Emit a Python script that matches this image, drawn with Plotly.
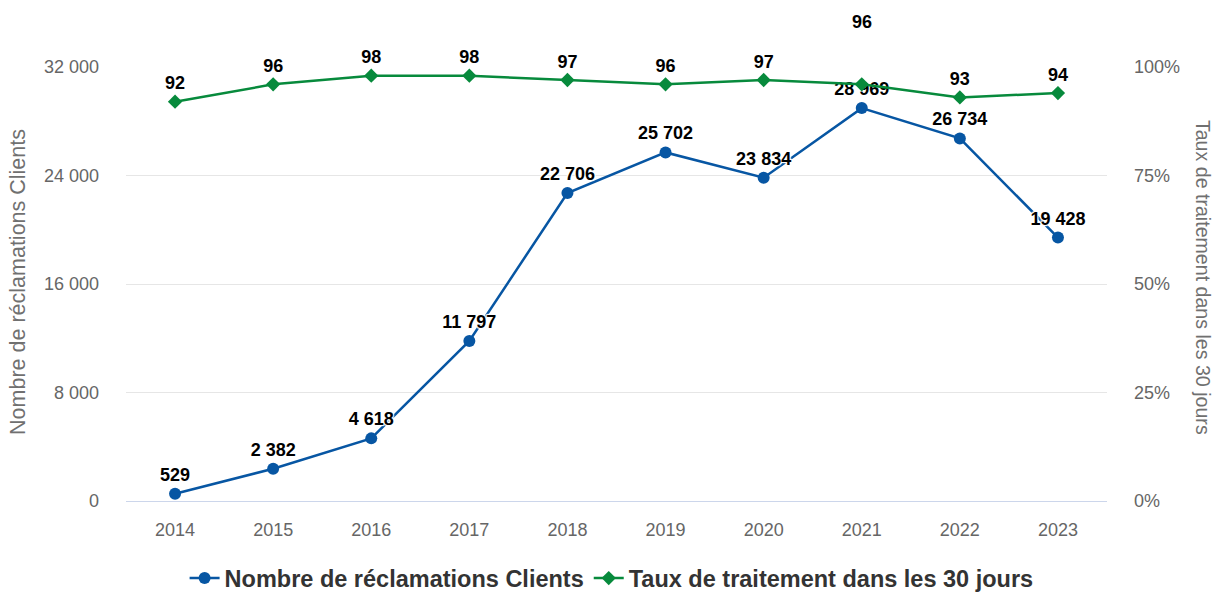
import plotly.graph_objects as go

years = ["2014", "2015", "2016", "2017", "2018", "2019", "2020", "2021", "2022", "2023"]
reclamations = [529, 2382, 4618, 11797, 22706, 25702, 23834, 28969, 26734, 19428]
taux = [92, 96, 98, 98, 97, 96, 97, 96, 93, 94]
left_ticks = [0, 8000, 16000, 24000, 32000]
left_tick_labels = ["0", "8 000", "16 000", "24 000", "32 000"]
right_ticks = [0, 25, 50, 75, 100]
right_tick_labels = ["0%", "25%", "50%", "75%", "100%"]

BLUE = "#0756a3"
GREEN = "#078a3c"
FONT = "Arial, Liberation Sans, Helvetica, sans-serif"
shadow = "1px 1px 1px white, -1px -1px 1px white, 1px -1px 1px white, -1px 1px 1px white"

def fmt(v):
    return f"{v:,}".replace(",", " ")

rec_text = [fmt(v) for v in reclamations]
# the 2021 rate label is displaced upward (label collision avoidance)
taux_text = [str(v) if y != "2021" else "" for y, v in zip(years, taux)]

lbl_font = dict(family=FONT, size=18, color="black", weight="bold", shadow=shadow)

fig = go.Figure()
fig.add_trace(go.Scatter(
    x=years, y=reclamations, name="Nombre de réclamations Clients",
    mode="lines+markers+text", text=rec_text, textposition="top center",
    textfont=lbl_font,
    line=dict(color=BLUE, width=2.5),
    marker=dict(color=BLUE, size=12, symbol="circle"),
    yaxis="y", cliponaxis=False,
))
fig.add_trace(go.Scatter(
    x=years, y=taux, name="Taux de traitement dans les 30 jours",
    mode="lines+markers+text", text=taux_text, textposition="top center",
    textfont=lbl_font,
    line=dict(color=GREEN, width=2.5),
    marker=dict(color=GREEN, size=11, symbol="diamond"),
    yaxis="y2", cliponaxis=False,
))

i21 = years.index("2021")
fig.add_annotation(xref="x", yref="y2", x=i21, y=taux[i21], text=str(taux[i21]),
                   showarrow=False, yshift=62, xanchor="center", yanchor="middle",
                   font=dict(family=FONT, size=18, color="black", weight="bold"))

fig.add_annotation(xref="paper", yref="paper", x=-0.110, y=0.505, text="Nombre de réclamations Clients",
                   textangle=-90, showarrow=False, xanchor="center", yanchor="middle",
                   font=dict(family=FONT, size=21.5, color="#707070"))
fig.add_annotation(xref="paper", yref="paper", x=1.098, y=0.516, text="Taux de traitement dans les 30 jours",
                   textangle=90, showarrow=False, xanchor="center", yanchor="middle",
                   font=dict(family=FONT, size=19.6, color="#707070"))

fig.update_layout(
    width=1215, height=592,
    margin=dict(l=126, r=108, t=67, b=91, autoexpand=False),
    paper_bgcolor="white", plot_bgcolor="white",
    font=dict(family=FONT, color="#666666"),
    showlegend=True,
    legend=dict(orientation="h", x=0.495, xanchor="center", y=-0.178, yanchor="middle",
                font=dict(family=FONT, size=23.5, color="#333333", weight="bold"),
                traceorder="normal", itemwidth=30),
    xaxis=dict(type="category", range=[-0.5, 9.5], showgrid=False, ticks="",
               tickfont=dict(size=18, color="#666666"), showline=True, linecolor="#ccd6eb",
               linewidth=1, zeroline=False, ticklabelstandoff=12),
    yaxis=dict(range=[0, 32000], tickvals=left_ticks, ticktext=left_tick_labels,
               gridcolor="#e6e6e6", gridwidth=1, zeroline=False, showline=False,
               tickfont=dict(size=18, color="#666666"), ticklabelstandoff=26),
    yaxis2=dict(range=[0, 100], tickvals=right_ticks, ticktext=right_tick_labels,
                overlaying="y", side="right", showgrid=False, zeroline=False,
                tickfont=dict(size=18, color="#666666"), ticklabelstandoff=26),
)
fig.write_html("out.html", config={"displayModeBar": False},
               post_script="document.body.style.margin='0';")
